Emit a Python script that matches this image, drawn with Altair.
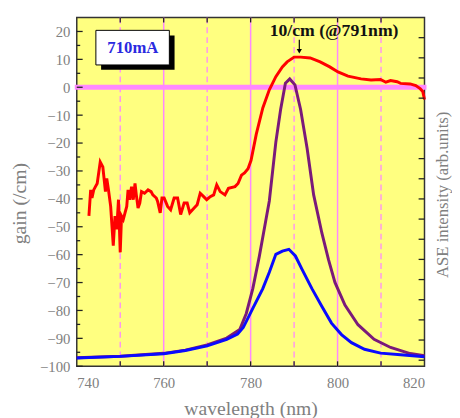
import altair as alt
import pandas as pd

# ---- data ----
gain_nm = [742.8, 743.2, 743.5, 743.9, 744.3, 744.7, 745.4, 746.0, 746.6, 746.9, 747.3, 747.8,
           748.4, 748.8, 749.2, 749.6, 750.0, 750.3, 750.7, 751.1, 751.5, 751.8, 752.2, 752.6,
           753.0, 753.4, 753.7, 754.1, 754.5, 754.9, 755.6, 756.4, 757.1, 757.5, 758.3, 758.6,
           759.2, 759.6, 760.1, 760.9, 761.6, 762.4, 763.2, 763.9, 764.7, 765.4, 766.0, 767.0,
           767.7, 768.4, 769.2, 769.9, 770.7, 771.5, 772.2, 773.0, 774.1, 774.9, 776.4, 777.1,
           777.9, 778.6, 779.4, 780.1, 781.3, 782.8, 784.3, 785.8, 787.3, 788.4, 790.0, 791.5,
           793.7, 796.0, 798.2, 800.1, 802.4, 805.4, 807.7, 809.9, 811.1, 812.2, 813.7, 814.5,
           816.7, 818.0, 819.0, 819.6, 820.0]
gain_val = [-46.1, -36.8, -39.7, -36.8, -35.6, -34.5, -26.8, -28.6, -37.4, -32.7, -36.8, -42.7,
            -56.8, -46.2, -50.9, -40.3, -59.2, -46.2, -47.4, -45.0, -42.7, -36.8, -40.3, -35.6,
            -40.3, -34.5, -38.6, -43.3, -41.5, -37.4, -38.0, -36.8, -37.4, -38.6, -39.7, -40.9,
            -45.0, -39.7, -39.7, -42.7, -43.9, -39.7, -39.7, -45.6, -41.5, -41.5, -45.0, -43.3,
            -42.1, -38.0, -39.2, -40.3, -39.2, -38.6, -35.0, -37.4, -38.6, -36.2, -35.6, -34.5,
            -31.5, -30.7, -29.2, -26.2, -16.8, -7.4, -0.9, 3.8, 7.3, 9.1, 10.8, 10.8,
            10.5, 9.1, 7.3, 5.5, 4.0, 3.0, 2.6, 2.8, 1.8, 2.4, 2.0, 1.4,
            1.2, 0.6, -0.5, -1.5, -4.4]

blue_nm = [740, 750, 760, 765, 770, 774.5, 777.0, 778.3, 780.5, 782.8, 784.3, 785.8, 787.3,
           788.8, 790.3, 791.8, 794.1, 796.4, 798.6, 800.9, 803.2, 806.2, 809.9, 814.5, 820]
blue_val = [0.11, 0.19, 0.32, 0.48, 0.71, 1.03, 1.30, 1.62, 2.57, 3.55, 4.36, 5.25, 5.41,
            5.50, 5.17, 4.52, 3.55, 2.66, 1.84, 1.27, 0.87, 0.54, 0.35, 0.27, 0.17]

purple_nm = [740, 750, 760, 765, 770, 774.5, 777.5, 779, 780.5, 782, 783.5, 784.3, 785.8,
             786.9, 788, 789, 790.2, 791.5, 793, 794.5, 796.4, 797.9, 799.4, 801.7, 804.7,
             808.4, 812.2, 816.7, 820]
purple_val = [0.12, 0.2, 0.34, 0.5, 0.76, 1.1, 1.52, 2.32, 3.55, 5.15, 6.94, 7.9, 10.82,
              12.44, 13.74, 13.95, 13.66, 12.44, 10.5, 8.2, 6.3, 5.0, 3.86, 2.73, 1.76,
              1.04, 0.63, 0.33, 0.22]

solid_grid_nm = [760, 780, 800]
dashed_grid_nm = [750, 770, 790, 810]
x_label_values = [740, 760, 780, 800, 820]
x_tick_values = [750, 760, 770, 780, 790, 800, 810]
y_label_values = [-100, -90, -80, -70, -60, -50, -40, -30, -20, -10, 0, 10, 20]
y_minor_values = [-95, -85, -75, -65, -55, -45, -35, -25, -15, -5, 5, 15]
right_tick_values = list(range(0, 17))
zero_level = [0]

# ---- layout / style ----
W, H = 354, 355
FONT = "Liberation Serif"
GREY = "#808080"
PINK = "#ff88ff"
TICK = "#222222"

xs = alt.Scale(domain=[740, 820], nice=False, zero=False)
ys = alt.Scale(domain=[-100, 25], nice=False, zero=False)
us = alt.Scale(domain=[-0.3, 17], nice=False, zero=False)

AX_X = alt.Axis(
    values=x_label_values, ticks=False, domain=False, grid=False,
    labelFont=FONT, labelFontSize=15, labelColor=GREY, labelPadding=10,
    title="wavelength (nm)", titleFont=FONT, titleFontSize=20,
    titleFontWeight="normal", titleColor=GREY, titleY=33, titleBaseline="top")
AX_YL = alt.Axis(
    values=y_label_values, ticks=False, domain=False, grid=False,
    labelFont=FONT, labelFontSize=15, labelColor=GREY, labelPadding=7,
    title="gain (/cm)", titleFont=FONT, titleFontSize=20, titleFontWeight="normal",
    titleColor=GREY, titleX=-52, titleY=189, titleAngle=270,
    titleBaseline="alphabetic", titleAlign="center")
AX_YR = alt.Axis(
    orient="right", labels=False, ticks=False, domain=False, grid=False,
    title="ASE intensity (arb.units)", titleFont=FONT, titleFontSize=17,
    titleFontWeight="normal", titleColor=GREY, titleX=23, titleY=180,
    titleAngle=270, titleBaseline="alphabetic", titleAlign="center")


def X(field):
    return alt.X(field, scale=xs, axis=AX_X)


def YL(field):
    return alt.Y(field, scale=ys, axis=AX_YL)


def YR(field):
    return alt.Y(field, scale=us, axis=AX_YR)


def XD(v):
    return alt.X(datum=v, scale=xs, axis=AX_X)


def YD(v):
    return alt.Y(datum=v, scale=ys, axis=AX_YL)


gain_df = pd.DataFrame({"nm": gain_nm, "gain": gain_val})
blue_df = pd.DataFrame({"nm": blue_nm, "u": blue_val})
purple_df = pd.DataFrame({"nm": purple_nm, "u": purple_val})
one = pd.DataFrame({"k": [0]})

red = alt.Chart(gain_df).mark_line(color="#ff0000", strokeWidth=3).encode(
    x=X("nm:Q"), y=YL("gain:Q"), order="nm:Q")

grid_solid = alt.Chart(pd.DataFrame({"v": solid_grid_nm})).mark_rule(
    color=PINK, strokeWidth=1.5).encode(x=X("v:Q"))
grid_dash = alt.Chart(pd.DataFrame({"v": dashed_grid_nm})).mark_rule(
    color=PINK, strokeWidth=1.3, strokeDash=[6, 4]).encode(x=X("v:Q"))

zero_line = alt.Chart(pd.DataFrame({"g": zero_level})).mark_rule(
    color=PINK, strokeWidth=5).encode(
    y=YL("g:Q"), x=alt.value(-2), x2=alt.value(W + 2))

left_major = alt.Chart(pd.DataFrame({"v": y_label_values})).mark_rule(
    color=TICK, strokeWidth=1.3).encode(y=YL("v:Q"), x=alt.value(0), x2=alt.value(6))
left_minor = alt.Chart(pd.DataFrame({"v": y_minor_values})).mark_rule(
    color=TICK, strokeWidth=1.3).encode(y=YL("v:Q"), x=alt.value(0), x2=alt.value(3.5))
top_ticks = alt.Chart(pd.DataFrame({"v": x_tick_values})).mark_rule(
    color=TICK, strokeWidth=1.3).encode(x=X("v:Q"), y=alt.value(0), y2=alt.value(5))
bottom_ticks = alt.Chart(pd.DataFrame({"v": x_tick_values})).mark_rule(
    color=TICK, strokeWidth=1.3).encode(x=X("v:Q"), y=alt.value(H), y2=alt.value(H - 5))

shadow = alt.Chart(one).mark_rect(color="#000000").encode(
    x=XD(745.6), x2=alt.X2(datum=762.5), y=YD(6.3), y2=alt.Y2(datum=18.6))
box = alt.Chart(one).mark_rect(fill="#ffffff", stroke="#000000", strokeWidth=1).encode(
    x=XD(744.4), x2=alt.X2(datum=761.3), y=YD(8.0), y2=alt.Y2(datum=20.4))
box_text = alt.Chart(one).mark_text(
    text="710mA", font=FONT, fontSize=17, fontWeight="bold", color="#2a2ae0",
    align="center", baseline="middle").encode(x=XD(752.9), y=YD(14.2))

peak_text = alt.Chart(one).mark_text(
    text="10/cm (@791nm)", font=FONT, fontSize=18, fontWeight="bold", color="#111111",
    align="center", baseline="middle").encode(x=XD(799.2), y=YD(20.2))
arrow_shaft = alt.Chart(one).mark_rule(color="#000000", strokeWidth=1.2).encode(
    x=XD(791.2), y=YD(17.0), y2=alt.Y2(datum=13.5))
arrow_head = alt.Chart(one).mark_point(
    shape="triangle-down", filled=True, color="#000000", size=28, opacity=1).encode(
    x=XD(791.2), y=YD(12.9))

# red curve drawn above the grid and the zero line
left_group = alt.layer(grid_solid, grid_dash, zero_line, red, left_major, left_minor,
                       top_ticks, bottom_ticks, shadow, box, box_text, peak_text,
                       arrow_shaft, arrow_head)

purple = alt.Chart(purple_df).mark_line(color="#7a1a7a", strokeWidth=3).encode(
    x=X("nm:Q"), y=YR("u:Q"), order="nm:Q")
blue = alt.Chart(blue_df).mark_line(color="#0a0aff", strokeWidth=3).encode(
    x=X("nm:Q"), y=YR("u:Q"), order="nm:Q")
right_ticks = alt.Chart(pd.DataFrame({"v": right_tick_values})).mark_rule(
    color=TICK, strokeWidth=1.3).encode(y=YR("v:Q"), x=alt.value(W), x2=alt.value(W - 6))

right_group = alt.layer(purple, blue, right_ticks)

chart = alt.layer(left_group, right_group).resolve_scale(y="independent").properties(
    width=W, height=H,
    autosize=alt.AutoSizeParams(type="none"),
    padding={"left": 70, "top": 6, "right": 28, "bottom": 49},
).configure_view(fill="#ffff80", stroke="#333333", strokeWidth=1.5)

chart.save("out.html", embed_options={"renderer": "svg", "actions": False})
